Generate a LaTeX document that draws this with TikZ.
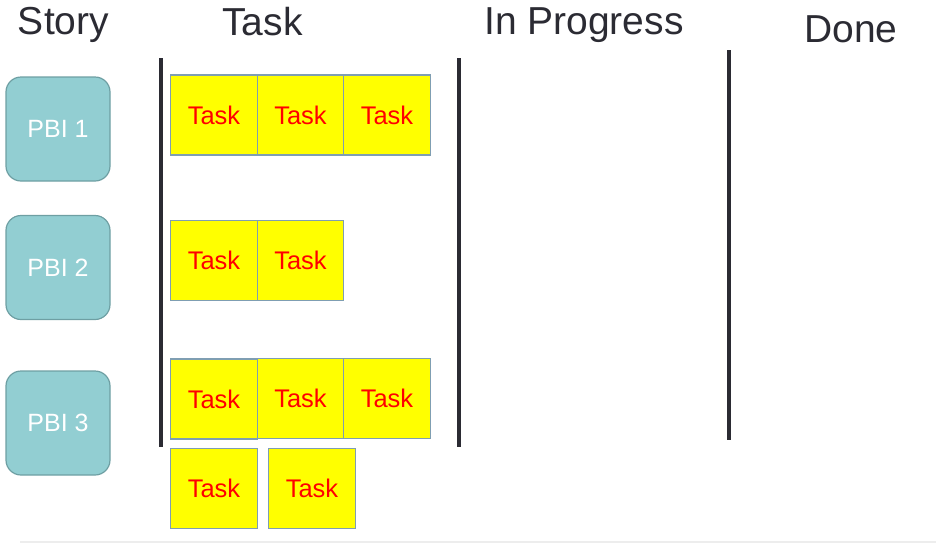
\documentclass[tikz,border=0pt]{standalone}
\usepackage{fontspec}
\setmainfont{Liberation Sans}
\usepackage{tikz}
\definecolor{pbifill}{HTML}{92CED2}
\definecolor{pbiline}{HTML}{6E9FA3}
\definecolor{taskfill}{HTML}{FFFF00}
\definecolor{taskline}{HTML}{7F9EB2}
\definecolor{tasktext}{HTML}{FF0000}
\definecolor{ink}{HTML}{2B2B33}
\tikzstyle{head}=[anchor=base,inner sep=0mm,text=ink,font=\fontsize{39}{39}\selectfont]
\tikzstyle{story}=[rectangle,rounded corners=15pt,draw=pbiline,fill=pbifill,line width=1.2pt,text=white,inner sep=0mm,minimum width=104pt,minimum height=104pt,font=\fontsize{25}{25}\selectfont]
\tikzstyle{task}=[rectangle,draw=taskline,fill=taskfill,line width=1.2pt,text=tasktext,inner sep=0mm,minimum width=86.5pt,minimum height=80pt,font=\fontsize{25.5}{25.5}\selectfont]
\tikzstyle{bar}=[draw=ink,line width=4pt]
\tikzset{every picture/.style={
    line width=1
  }
}
\begin{document}
\begin{tikzpicture}[x=1pt,y=-1pt]
      \useasboundingbox (0,0) rectangle (936,544);
      \node[head] at (63.5,34) (hstory) {Story};
      \node[head] at (262.5,35) (htask) {Task};
      \node[head] at (584,34) (hprog) {In Progress};
      \node[head] at (851,42) (hdone) {Done};
      \coordinate (b1top) at (161,58);
      \coordinate (b1bot) at (161,447);
      \coordinate (b2top) at (459,58);
      \coordinate (b2bot) at (459,447);
      \coordinate (b3top) at (729,50);
      \coordinate (b3bot) at (729,440);
      \draw[bar] (b1top) -- (b1bot);
      \draw[bar] (b2top) -- (b2bot);
      \draw[bar] (b3top) -- (b3bot);
      \node[story] at (58,129) (pbi1) {PBI 1};
      \node[story] at (58,267.5) (pbi2) {PBI 2};
      \node[story] at (58,423) (pbi3) {PBI 3};
      \node[task] at (214,115) (t11) {Task};
      \node[task] at (300.5,115) (t12) {Task};
      \node[task] at (387,115) (t13) {Task};
      \node[task] at (214,260.5) (t21) {Task};
      \node[task] at (300.5,260.5) (t22) {Task};
      \node[task] at (214,399) (t31) {Task};
      \node[task] at (300.5,398.5) (t32) {Task};
      \node[task] at (387,398.5) (t33) {Task};
      \node[task] at (214,488.5) (t41) {Task};
      \node[task] at (312,488.5) (t42) {Task};
      % faint rule along the bottom edge
      \coordinate (rl) at (20,542);
      \coordinate (rr) at (936,542);
      \draw[black!7,line width=1.5pt] (rl) -- (rr);
    \end{tikzpicture}
\end{document}
